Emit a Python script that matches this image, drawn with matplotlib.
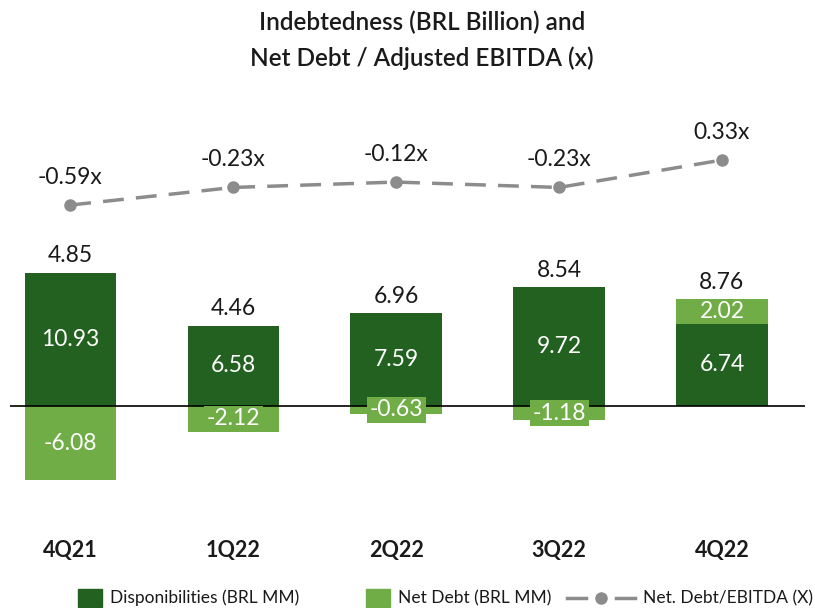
import matplotlib.pyplot as plt
from matplotlib.patches import Rectangle
from matplotlib.lines import Line2D
from matplotlib import transforms

plt.rcParams['font.family'] = ['Lato', 'DejaVu Sans']

quarters = ["4Q21", "1Q22", "2Q22", "3Q22", "4Q22"]
disponibilities = [10.93, 6.58, 7.59, 9.72, 6.74]
net_debt = [-6.08, -2.12, -0.63, -1.18, 2.02]
gross_debt = [4.85, 4.46, 6.96, 8.54, 8.76]
leverage = [-0.59, -0.23, -0.12, -0.23, 0.33]

dark = "#22611f"
light = "#70ad47"
grey = "#8c8c8c"
ink = "#1a1a1a"

W, H = 815, 608
fig = plt.figure(figsize=(W / 100, H / 100), dpi=100)
# axes box in pixels: left 10, right 805, top 140, bottom 500
ax = fig.add_axes([10 / W, 108 / H, 795 / W, 360 / H])
ax.set_xlim(-0.37, 4.51)
ax.set_ylim(-(500 - 406) / 12.2, (406 - 140) / 12.2)

x = list(range(len(quarters)))
w = 0.56
fs = 16.5
for i in x:
    d = disponibilities[i]
    n = net_debt[i]
    ax.bar(i, d, width=w, color=dark, zorder=2)
    if n >= 0:
        ax.bar(i, n, width=w, bottom=d, color=light, zorder=2)
        ax.text(i, d + n / 2, f"{n:.2f}", ha="center", va="center",
                color="white", fontsize=fs, zorder=5)
        top = d + n
    else:
        ax.bar(i, n, width=w, color=light, zorder=2)
        ax.text(i, n / 2, f"{n:.2f}", ha="center", va="center",
                color="white", fontsize=fs, zorder=5,
                bbox=dict(boxstyle="square,pad=0.12", fc=light, ec="none"))
        top = d
    ax.text(i, d / 2, f"{d:.2f}", ha="center", va="center",
            color="white", fontsize=fs, zorder=5)
    ax.text(i, top + 1.4, f"{gross_debt[i]:.2f}", ha="center", va="center",
            color=ink, fontsize=fs, zorder=5)

ax.axhline(0, color="black", lw=1.2, zorder=3)

# leverage on its own scale
ax2 = ax.twinx()
ax2.set_ylim(-(500 - 176.2) / 48.9, (176.2 - 140) / 48.9)
ax2.plot(x, leverage, color=grey, lw=2.5, dashes=(6, 3.5), marker="o",
         markersize=8, zorder=4)
for i in x:
    ax2.annotate(f"{leverage[i]:.2f}x", (i, leverage[i]), xytext=(0, 20),
                 textcoords="offset points", ha="center", va="center",
                 fontsize=fs, color=ink)

for a in (ax, ax2):
    a.set_yticks([])
    for s in a.spines.values():
        s.set_visible(False)
ax.set_xticks([])

trans = transforms.blended_transform_factory(ax.transData, fig.transFigure)
for i, q in enumerate(quarters):
    fig.text(i, 1 - 550 / H, q, transform=trans, ha="center", va="center",
             fontsize=15.5, fontweight="bold", color=ink)

fig.text(422 / W, 1 - 22 / H, "Indebtedness (BRL Billion) and", ha="center",
         va="center", fontsize=17.5, fontweight="semibold", color=ink)
fig.text(422 / W, 1 - 58 / H, "Net Debt / Adjusted EBITDA (x)", ha="center",
         va="center", fontsize=17.5, fontweight="semibold", color=ink)

# legend drawn by hand in pixel coordinates
def px(xp, yp):
    return xp / W, 1 - yp / H

ly = 598
for x0, col, label in [(78, dark, "Disponibilities (BRL MM)"),
                       (366, light, "Net Debt (BRL MM)")]:
    fig.add_artist(Rectangle(px(x0, ly + 9), 24 / W, 18 / H, color=col,
                             transform=fig.transFigure))
    fig.text(*px(x0 + 32, ly), label, ha="left", va="center",
             fontsize=12.5, color=ink)
for xa, xb in [(567, 586), (616, 635)]:
    fig.add_artist(Line2D([xa / W, xb / W], [1 - ly / H] * 2, color=grey,
                          lw=2.5, transform=fig.transFigure))
fig.add_artist(Line2D([601 / W], [1 - ly / H], color=grey, marker="o",
                      markersize=8, transform=fig.transFigure))
fig.text(*px(643, ly), "Net. Debt/EBITDA (X)", ha="left", va="center",
         fontsize=12.5, color=ink)

fig.savefig("out.png", dpi=100)
